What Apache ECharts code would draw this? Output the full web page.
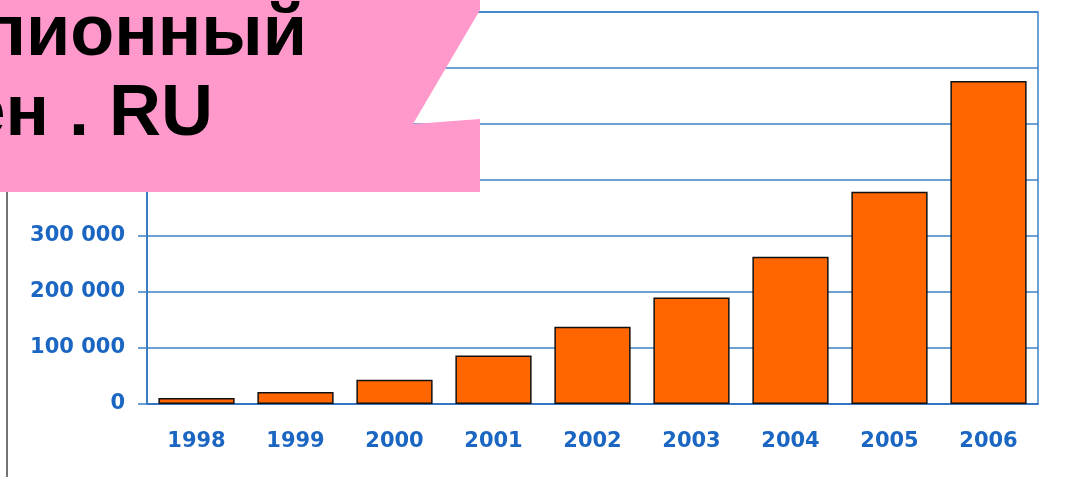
<!DOCTYPE html>
<html>
<head>
<meta charset="utf-8">
<title>Домены .RU</title>
<script src="https://cdn.jsdelivr.net/npm/echarts@6/dist/echarts.min.js"></script>
<style>
  html, body { margin: 0; padding: 0; background: #fff; }
  #chart { width: 1076px; height: 477px; }
</style>
</head>
<body>
<div id="chart"></div>
<script>
// registered domains per year
const years = ['1998', '1999', '2000', '2001', '2002', '2003', '2004', '2005', '2006']
const domains = [10500, 21500, 43500, 86500, 138000, 190000, 263000, 379000, 577000]
const yMax = 700000
const yStep = 100000
const titleLines = ['лионный', 'ен . RU']

const blue = '#1a66c2'
const lineBlue = '#3c82c8'

function spaced (v) {
  return String(v).replace(/\B(?=(\d{3})+(?!\d))/g, ' ')
}

function titleText (str, x, y) {
  return {
    type: 'text',
    z: 110,
    x: x,
    y: y,
    style: {
      text: str,
      fill: '#000',
      fontFamily: 'Liberation Sans',
      fontWeight: 'bold',
      fontSize: 72,
      align: 'right',
      verticalAlign: 'middle'
    }
  }
}

const chart = echarts.init(document.getElementById('chart'), null, { renderer: 'canvas' })

chart.setOption({
  animation: false,
  grid: {
    left: 147,
    right: 38,
    top: 12,
    bottom: 73,
    show: true,
    borderColor: lineBlue,
    borderWidth: 1.5
  },
  xAxis: {
    type: 'category',
    data: years,
    axisLine: { lineStyle: { color: '#2f6fbf', width: 1.5 } },
    axisTick: { length: 8, lineStyle: { color: lineBlue, width: 1.5 } },
    axisLabel: {
      color: blue,
      fontFamily: 'DejaVu Sans',
      fontWeight: 'bold',
      fontSize: 21,
      margin: 27
    }
  },
  yAxis: {
    type: 'value',
    min: 0,
    max: yMax,
    interval: yStep,
    axisLine: { show: true, lineStyle: { color: '#2f6fbf', width: 1.5 } },
    axisTick: { show: true, length: 9, lineStyle: { color: lineBlue, width: 1.5 } },
    splitLine: { lineStyle: { color: lineBlue, width: 1.5 } },
    axisLabel: {
      color: blue,
      fontFamily: 'DejaVu Sans',
      fontWeight: 'bold',
      fontSize: 21,
      margin: 22,
      formatter: spaced
    }
  },
  series: [{
    type: 'bar',
    data: domains,
    barCategoryGap: '23%',
    itemStyle: {
      color: '#ff6600',
      borderColor: '#111',
      borderWidth: 1.5
    }
  }],
  graphic: [
    {
      type: 'line',
      z: 90,
      shape: { x1: 7, y1: 190, x2: 7, y2: 477 },
      style: { stroke: '#444', lineWidth: 1.5 }
    },
    {
      type: 'polygon',
      z: 100,
      shape: {
        points: [[0, 0], [480, 0], [480, 10], [413, 124], [480, 119], [480, 192], [0, 192]]
      },
      style: { fill: '#ff99cc' }
    },
    titleText(titleLines[0], 307, 35),
    titleText(titleLines[1], 213, 115)
  ]
})
</script>
</body>
</html>
